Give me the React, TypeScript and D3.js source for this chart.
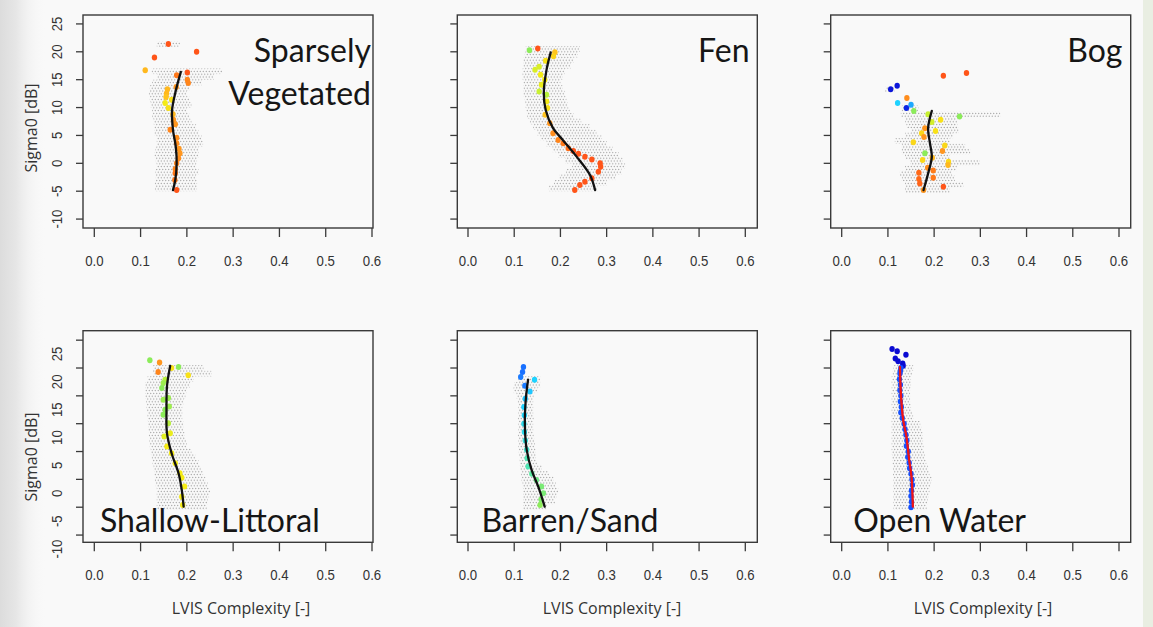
import React from 'react';
import * as d3 from 'd3';

// [sigma0 dB, complexity low, complexity high] — spread of the individual samples per 1 dB bin
type Band = [number, number, number];
// [complexity, sigma0 dB, colour value 0..1]
type Pt = [number, number, number];
// [complexity, sigma0 dB]
type CurvePt = [number, number];

const complexityTicks = [0, 0.1, 0.2, 0.3, 0.4, 0.5, 0.6];
const sigmaTicksTop = [-10, -5, 0, 5, 10, 15, 20, 25];
const sigmaTicksBottom = [-5, 0, 5, 10, 15, 20, 25, 30];
const sigmaTickLabels = [-10, -5, 0, 5, 10, 15, 20, 25];

// ---------- Sparsely Vegetated ----------
const sparseBand: Band[] = [
  [21.4, 0.135, 0.185], [16.5, 0.124, 0.276], [15.5, 0.136, 0.258], [14.5, 0.125, 0.232],
  [13.5, 0.12, 0.205], [12.5, 0.118, 0.2], [11.5, 0.12, 0.205], [10.5, 0.122, 0.21],
  [9.5, 0.125, 0.2], [8.5, 0.125, 0.205], [7.5, 0.128, 0.21], [6.5, 0.13, 0.22],
  [5.5, 0.13, 0.225], [4.5, 0.135, 0.232], [3.5, 0.135, 0.235], [2.5, 0.132, 0.225],
  [1.5, 0.13, 0.225], [0.5, 0.133, 0.222], [-0.5, 0.135, 0.22], [-1.5, 0.132, 0.225],
  [-2.5, 0.133, 0.22], [-3.5, 0.131, 0.222], [-4.5, 0.131, 0.222],
];
const sparsePoints: Pt[] = [
  [0.160, 21.4, 1.0], [0.130, 19.0, 1.0], [0.221, 20.0, 1.0], [0.110, 16.7, 0.8],
  [0.201, 16.3, 1.0], [0.178, 15.8, 0.93], [0.201, 15.0, 0.9], [0.203, 14.4, 0.9],
  [0.177, 13.7, 0.86], [0.158, 13.3, 0.8], [0.156, 12.5, 0.8], [0.155, 11.9, 0.78],
  [0.167, 11.4, 0.72], [0.153, 10.8, 0.7], [0.160, 9.9, 0.72], [0.170, 8.8, 0.8],
  [0.171, 7.8, 0.86], [0.175, 7.0, 0.86], [0.164, 6.0, 0.9], [0.178, 4.6, 0.88],
  [0.178, 3.6, 0.88], [0.183, 2.6, 0.86], [0.185, 1.8, 0.86], [0.182, 0.9, 0.88],
  [0.178, 0.0, 0.9], [0.175, -1.0, 0.9], [0.175, -1.8, 0.93], [0.174, -3.0, 0.93],
  [0.178, -4.8, 1.0],
];
const sparseCurve: CurvePt[] = [
  [0.187, 16.4], [0.176, 13.0], [0.168, 9.5], [0.170, 6.0], [0.176, 3.0],
  [0.178, 0.0], [0.175, -3.0], [0.170, -4.8],
];

// ---------- Fen ----------
const fenBand: Band[] = [
  [20.5, 0.125, 0.242], [19.5, 0.123, 0.238], [18.5, 0.12, 0.228], [17.5, 0.12, 0.222],
  [16.5, 0.118, 0.21], [15.5, 0.118, 0.205], [14.5, 0.12, 0.2], [13.5, 0.12, 0.205],
  [12.5, 0.12, 0.21], [11.5, 0.123, 0.213], [10.5, 0.124, 0.215], [9.5, 0.126, 0.22],
  [8.5, 0.128, 0.228], [7.5, 0.134, 0.245], [6.5, 0.141, 0.264], [5.5, 0.15, 0.278],
  [4.5, 0.157, 0.29], [3.5, 0.17, 0.3], [2.5, 0.183, 0.313], [1.5, 0.195, 0.326],
  [0.5, 0.21, 0.335], [-0.5, 0.225, 0.34], [-1.5, 0.212, 0.332], [-2.5, 0.198, 0.32],
  [-3.5, 0.186, 0.3], [-4.5, 0.175, 0.28],
];
const fenPoints: Pt[] = [
  [0.133, 20.3, 0.55], [0.151, 20.6, 1.0], [0.188, 19.9, 0.78], [0.185, 19.2, 0.75],
  [0.168, 18.4, 0.72], [0.154, 17.3, 0.65], [0.145, 16.8, 0.65], [0.157, 15.9, 0.7],
  [0.166, 15.0, 0.7], [0.159, 14.1, 0.68], [0.154, 12.9, 0.62], [0.170, 12.3, 0.6],
  [0.170, 11.1, 0.7], [0.172, 9.9, 0.72], [0.167, 8.7, 0.78], [0.177, 7.2, 0.86],
  [0.184, 5.4, 0.88], [0.195, 4.2, 0.9], [0.206, 3.6, 0.93], [0.217, 2.7, 0.95],
  [0.228, 2.2, 1.0], [0.239, 1.7, 1.0], [0.253, 1.2, 1.0], [0.268, 0.7, 1.0],
  [0.286, 0.0, 1.0], [0.287, -0.6, 1.0], [0.282, -1.5, 1.0], [0.268, -2.7, 1.0],
  [0.253, -3.3, 1.0], [0.242, -3.9, 1.0], [0.231, -4.8, 1.0],
];
const fenCurve: CurvePt[] = [
  [0.179, 19.9], [0.170, 16.8], [0.164, 12.6], [0.168, 9.6], [0.184, 6.3],
  [0.205, 4.2], [0.235, 1.2], [0.264, -2.1], [0.275, -4.8],
];

// ---------- Bog ----------
const bogBand: Band[] = [
  [13.3, 0.094, 0.114], [9.9, 0.13, 0.166], [8.8, 0.128, 0.343], [7.8, 0.137, 0.25],
  [6.8, 0.14, 0.25], [5.9, 0.151, 0.253], [5.0, 0.137, 0.241], [4.0, 0.115, 0.234],
  [3.0, 0.13, 0.267], [2.1, 0.13, 0.278], [1.2, 0.137, 0.234], [0.1, 0.148, 0.299],
  [-0.9, 0.137, 0.249], [-1.8, 0.126, 0.238], [-2.7, 0.13, 0.245], [-3.8, 0.137, 0.263],
  [-4.8, 0.137, 0.234],
];
const bogPoints: Pt[] = [
  [0.220, 15.7, 1.0], [0.270, 16.2, 1.0], [0.106, 13.3, 0.02], [0.120, 13.9, 0.02],
  [0.141, 11.7, 0.88], [0.121, 10.8, 0.35], [0.150, 10.5, 0.28], [0.140, 9.9, 0.05],
  [0.156, 9.4, 0.55], [0.187, 8.8, 0.62], [0.255, 8.4, 0.55], [0.214, 7.8, 0.72],
  [0.195, 7.4, 0.64], [0.180, 6.3, 0.86], [0.203, 5.8, 0.72], [0.173, 5.4, 0.74],
  [0.178, 4.7, 0.86], [0.155, 3.8, 0.74], [0.223, 3.2, 0.74], [0.218, 2.2, 0.86],
  [0.180, 1.8, 0.55], [0.196, 1.0, 0.8], [0.175, 0.6, 0.74], [0.231, 0.3, 0.74],
  [0.230, -0.3, 0.8], [0.186, -0.8, 0.88], [0.198, -1.3, 0.92], [0.167, -1.7, 0.96],
  [0.198, -2.6, 0.93], [0.167, -2.8, 0.96], [0.169, -3.6, 0.97], [0.220, -4.2, 1.0],
  [0.177, -4.8, 0.86],
];
const bogCurve: CurvePt[] = [
  [0.195, 9.4], [0.187, 6.3], [0.191, 3.6], [0.195, 1.2], [0.187, -1.8], [0.177, -4.8],
];

// ---------- Shallow-Littoral ----------
const shallowBand: Band[] = [
  [25, 0.127, 0.236], [24, 0.127, 0.254], [23, 0.115, 0.215], [22, 0.11, 0.207],
  [21, 0.11, 0.2], [20, 0.11, 0.197], [19, 0.112, 0.193], [18, 0.113, 0.19],
  [17, 0.114, 0.19], [16, 0.115, 0.19], [15, 0.116, 0.192], [14, 0.117, 0.192],
  [13, 0.118, 0.195], [12, 0.119, 0.198], [11, 0.12, 0.2], [10, 0.122, 0.21],
  [9, 0.124, 0.218], [8, 0.126, 0.225], [7, 0.128, 0.23], [6, 0.13, 0.235],
  [5, 0.131, 0.24], [4, 0.133, 0.245], [3, 0.135, 0.25], [2, 0.135, 0.248],
  [1, 0.135, 0.245], [0, 0.135, 0.243],
];
const shallowPoints: Pt[] = [
  [0.120, 26.4, 0.55], [0.141, 26.0, 0.86], [0.182, 25.2, 0.55], [0.138, 24.3, 0.9],
  [0.167, 25.0, 0.72], [0.203, 23.7, 0.72], [0.153, 22.9, 0.6], [0.149, 22.3, 0.57],
  [0.146, 21.4, 0.55], [0.149, 19.3, 0.57], [0.160, 19.6, 0.57], [0.162, 18.1, 0.57],
  [0.153, 17.5, 0.55], [0.149, 16.6, 0.55], [0.160, 15.1, 0.6], [0.164, 13.3, 0.68],
  [0.151, 12.7, 0.66], [0.157, 10.9, 0.7], [0.167, 9.7, 0.7], [0.175, 7.9, 0.7],
  [0.185, 6.1, 0.7], [0.189, 5.3, 0.7], [0.195, 3.7, 0.7], [0.189, 1.9, 0.7],
  [0.191, 0.4, 0.7],
];
const shallowCurve: CurvePt[] = [
  [0.164, 25.4], [0.157, 21.7], [0.156, 17.5], [0.157, 13.3], [0.167, 9.7],
  [0.182, 6.1], [0.189, 3.1], [0.193, 0.1],
];

// ---------- Barren/Sand ----------
const barrenBand: Band[] = [
  [23, 0.109, 0.156], [22, 0.1, 0.156], [21, 0.098, 0.15], [20, 0.105, 0.142],
  [19, 0.108, 0.141], [18, 0.109, 0.141], [17, 0.109, 0.141], [16, 0.108, 0.142],
  [15, 0.109, 0.141], [14, 0.109, 0.141], [13, 0.108, 0.142], [12, 0.109, 0.143],
  [11, 0.109, 0.145], [10, 0.11, 0.146], [9, 0.111, 0.147], [8, 0.112, 0.149],
  [7, 0.113, 0.16], [6, 0.115, 0.175], [5, 0.116, 0.185], [4, 0.118, 0.19],
  [3, 0.119, 0.195], [2, 0.119, 0.192], [1, 0.119, 0.188], [0, 0.119, 0.17],
];
const barrenPoints: Pt[] = [
  [0.120, 25.2, 0.18], [0.118, 24.3, 0.18], [0.114, 23.4, 0.2], [0.144, 22.9, 0.35],
  [0.123, 21.8, 0.2], [0.134, 20.8, 0.33], [0.124, 19.5, 0.33], [0.121, 18.0, 0.35],
  [0.122, 16.5, 0.36], [0.121, 15.0, 0.38], [0.122, 13.5, 0.38], [0.124, 12.0, 0.4],
  [0.127, 10.3, 0.42], [0.128, 8.8, 0.45], [0.130, 7.3, 0.45], [0.138, 6.0, 0.47],
  [0.148, 4.9, 0.5], [0.159, 3.7, 0.52], [0.163, 2.5, 0.52], [0.158, 1.4, 0.53],
  [0.156, 0.4, 0.55],
];
const barrenCurve: CurvePt[] = [
  [0.130, 22.9], [0.125, 19.3], [0.123, 15.1], [0.127, 10.3], [0.138, 6.6],
  [0.152, 3.7], [0.166, 0.1],
];

// ---------- Open Water ----------
const waterBand: Band[] = [
  [25, 0.112, 0.155], [24, 0.11, 0.152], [23, 0.108, 0.15], [22, 0.108, 0.15],
  [21, 0.108, 0.148], [20, 0.108, 0.148], [19, 0.108, 0.148], [18, 0.108, 0.15],
  [17, 0.108, 0.152], [16, 0.108, 0.155], [15, 0.108, 0.17], [14, 0.108, 0.172],
  [13, 0.108, 0.175], [12, 0.108, 0.176], [11, 0.108, 0.177], [10, 0.108, 0.178],
  [9, 0.109, 0.18], [8, 0.11, 0.183], [7, 0.111, 0.187], [6, 0.111, 0.19],
  [5, 0.112, 0.195], [4, 0.112, 0.192], [3, 0.112, 0.19], [2, 0.112, 0.188],
  [1, 0.112, 0.186], [0, 0.112, 0.184],
];
const waterPoints: Pt[] = [
  [0.109, 28.4, 0.0], [0.120, 28.0, 0.0], [0.139, 27.4, 0.0], [0.116, 26.7, 0.0],
  [0.122, 26.2, 0.0], [0.132, 25.8, 0.0], [0.133, 25.4, 0.0],
  [0.128, 25.0, 0.12], [0.127, 24.5, 0.12], [0.126, 24.0, 0.12], [0.125, 23.0, 0.12],
  [0.127, 22.0, 0.12], [0.126, 21.0, 0.12], [0.128, 20.0, 0.12], [0.127, 19.0, 0.12],
  [0.129, 18.0, 0.12], [0.128, 17.0, 0.12], [0.131, 16.0, 0.12], [0.135, 15.0, 0.12],
  [0.137, 14.0, 0.12], [0.139, 13.0, 0.12], [0.141, 12.0, 0.12], [0.140, 11.0, 0.12],
  [0.144, 10.0, 0.12], [0.143, 9.0, 0.12], [0.146, 8.0, 0.12], [0.147, 7.0, 0.12],
  [0.150, 6.0, 0.12], [0.152, 5.0, 0.12], [0.153, 4.0, 0.12], [0.151, 3.0, 0.12],
  [0.150, 2.0, 0.12], [0.151, 1.0, 0.12], [0.150, 0.0, 0.12],
];
const waterCurve: CurvePt[] = [
  [0.126, 25.2], [0.128, 20.5], [0.133, 15.7], [0.140, 12.7], [0.146, 8.5],
  [0.151, 5.5], [0.154, 0.1],
];

// ---------- layout ----------
const W = 1153;
const H = 627;

const colourStops = [0, 0.12, 0.25, 0.35, 0.45, 0.55, 0.62, 0.7, 0.78, 0.86, 0.93, 1];
const colourRamp = [
  '#0a0ad2', '#1450ff', '#1e96ff', '#1ed2ff', '#50e6b4', '#8cec5a',
  '#c8f032', '#f5eb14', '#ffc31e', '#ff961e', '#ff7819', '#ff5519',
];
const pointColour = d3.scaleLinear<string>().domain(colourStops).range(colourRamp);

const COLS = [
  { left: 83, right: 373, x0: 94.3, x1: 372, titleRight: 371, titleLeft: 100, xTitle: 241 },
  { left: 457.3, right: 757.3, x0: 468, x1: 745.3, titleRight: 749.5, titleLeft: 481.5, xTitle: 612 },
  { left: 830.7, right: 1130.7, x0: 841.7, x1: 1119, titleRight: 1122.5, titleLeft: 853.3, xTitle: 983 },
];

const ROWS = [
  { top: 15, bottom: 228, domain: [-11.6, 26.6], ticks: sigmaTicksTop, labelShift: 0, yTitle: 128 },
  { top: 330.7, bottom: 542.3, domain: [-6.3, 31.7], ticks: sigmaTicksBottom, labelShift: 330, yTitle: 457 },
];

interface PanelSpec {
  title: string[];
  band: Band[];
  points: Pt[];
  curve: CurvePt[];
  col: number;
  row: number;
  curveColour: string;
}

const PANELS: PanelSpec[] = [
  { title: ['Sparsely', 'Vegetated'], band: sparseBand, points: sparsePoints, curve: sparseCurve, col: 0, row: 0, curveColour: '#111' },
  { title: ['Fen'], band: fenBand, points: fenPoints, curve: fenCurve, col: 1, row: 0, curveColour: '#111' },
  { title: ['Bog'], band: bogBand, points: bogPoints, curve: bogCurve, col: 2, row: 0, curveColour: '#111' },
  { title: ['Shallow-Littoral'], band: shallowBand, points: shallowPoints, curve: shallowCurve, col: 0, row: 1, curveColour: '#111' },
  { title: ['Barren/Sand'], band: barrenBand, points: barrenPoints, curve: barrenCurve, col: 1, row: 1, curveColour: '#111' },
  { title: ['Open Water'], band: waterBand, points: waterPoints, curve: waterCurve, col: 2, row: 1, curveColour: '#f01414' },
];

const TICK_FONT = '"Liberation Sans", Arial, sans-serif';
const TEXT_FONT = 'Lato, "Open Sans", sans-serif';
const AXIS_TITLE_FONT = '"Open Sans", Lato, sans-serif';

function Panel({ spec }: { spec: PanelSpec }) {
  const c = COLS[spec.col];
  const r = ROWS[spec.row];
  const x = d3.scaleLinear().domain([0, 0.6]).range([c.x0, c.x1]);
  const y = d3.scaleLinear().domain(r.domain).range([r.bottom, r.top]);
  const yTop = d3.scaleLinear().domain(ROWS[0].domain).range([ROWS[0].bottom, ROWS[0].top]);
  const line = d3
    .line<CurvePt>()
    .x((d) => x(d[0]))
    .y((d) => y(d[1]))
    .curve(d3.curveCatmullRom.alpha(0.5));

  const isBottom = spec.row === 1;

  return (
    <g>
      {/* sample spread: dotted bands per 1 dB bin */}
      <g>
        {spec.band.map((b, i) => (
          <rect
            key={i}
            x={x(b[1])}
            width={x(b[2]) - x(b[1])}
            y={y(b[0] + 0.5)}
            height={y(b[0] - 0.5) - y(b[0] + 0.5)}
            fill="url(#sampleDots)"
          />
        ))}
      </g>
      {/* bin medians */}
      <g>
        {spec.points.map((p, i) => (
          <ellipse key={i} cx={x(p[0])} cy={y(p[1])} rx={2.7} ry={3.0} fill={pointColour(p[2])} />
        ))}
      </g>
      {/* fitted trend */}
      <path d={line(spec.curve) ?? ''} fill="none" stroke={spec.curveColour} strokeWidth={2.3} strokeLinecap="round" />

      {/* plot frame */}
      <rect x={c.left} y={r.top} width={c.right - c.left} height={r.bottom - r.top} fill="none" stroke="#3a3a3a" strokeWidth={1.4} />

      {/* x axis */}
      {complexityTicks.map((t) => (
        <g key={t}>
          <line x1={x(t)} x2={x(t)} y1={r.bottom} y2={r.bottom + 9} stroke="#3a3a3a" strokeWidth={1.3} />
          <text
            transform={`translate(${x(t)},${r.bottom + 38}) scale(0.88,1)`}
            textAnchor="middle"
            fontFamily={TICK_FONT}
            fontSize={15}
            fill="#333"
          >
            {d3.format('.1f')(t)}
          </text>
        </g>
      ))}

      {/* y axis */}
      {r.ticks.map((t) => (
        <line key={t} x1={c.left - 7} x2={c.left} y1={y(t)} y2={y(t)} stroke="#3a3a3a" strokeWidth={1.3} />
      ))}
      {spec.col === 0 &&
        sigmaTickLabels.map((t) => (
          <text
            key={t}
            transform={`translate(62,${yTop(t) + r.labelShift}) rotate(-90) scale(0.88,1)`}
            textAnchor="middle"
            fontFamily={TICK_FONT}
            fontSize={15}
            fill="#333"
          >
            {t}
          </text>
        ))}
      {spec.col === 0 && (
        <text
          transform={`translate(37,${r.yTitle}) rotate(-90)`}
          textAnchor="middle"
          fontFamily={AXIS_TITLE_FONT}
          fontSize={16}
          fill="#333"
        >
          Sigma0 [dB]
        </text>
      )}
      {isBottom && (
        <text x={c.xTitle} y={614} textAnchor="middle" fontFamily={AXIS_TITLE_FONT} fontSize={16} fill="#333">
          LVIS Complexity [-]
        </text>
      )}

      {/* class name */}
      {isBottom ? (
        <text x={c.titleLeft} y={r.bottom - 10} fontFamily={TEXT_FONT} fontSize={32} fill="#161616">
          {spec.title[0]}
        </text>
      ) : (
        spec.title.map((s, i) => (
          <text
            key={s}
            x={c.titleRight}
            y={r.top + 47 + i * 43}
            textAnchor="end"
            fontFamily={TEXT_FONT}
            fontSize={32}
            fill="#161616"
          >
            {s}
          </text>
        ))
      )}
    </g>
  );
}

export default function App() {
  return (
    <svg
      width={W}
      height={H}
      viewBox={`0 0 ${W} ${H}`}
      style={{ position: 'absolute', left: 0, top: 0, display: 'block' }}
    >
      <defs>
        <pattern id="sampleDots" width={3} height={5.6} patternUnits="userSpaceOnUse">
          <circle cx={0.75} cy={1.4} r={0.62} fill="#959595" />
          <circle cx={2.25} cy={4.2} r={0.62} fill="#959595" />
        </pattern>
        <linearGradient id="leftEdge" x1="0" x2="1" y1="0" y2="0">
          <stop offset="0" stopColor="#dcdcdc" />
          <stop offset="0.35" stopColor="#e6e6e6" />
          <stop offset="1" stopColor="#f9f9f9" stopOpacity={0} />
        </linearGradient>
      </defs>
      <rect width={W} height={H} fill="#f9f9f9" />
      <rect x={0} y={0} width={46} height={H} fill="url(#leftEdge)" />
      <rect x={1143} y={0} width={10} height={H} fill="#e9eee2" />
      {PANELS.map((p) => (
        <Panel key={p.title.join(' ')} spec={p} />
      ))}
    </svg>
  );
}
